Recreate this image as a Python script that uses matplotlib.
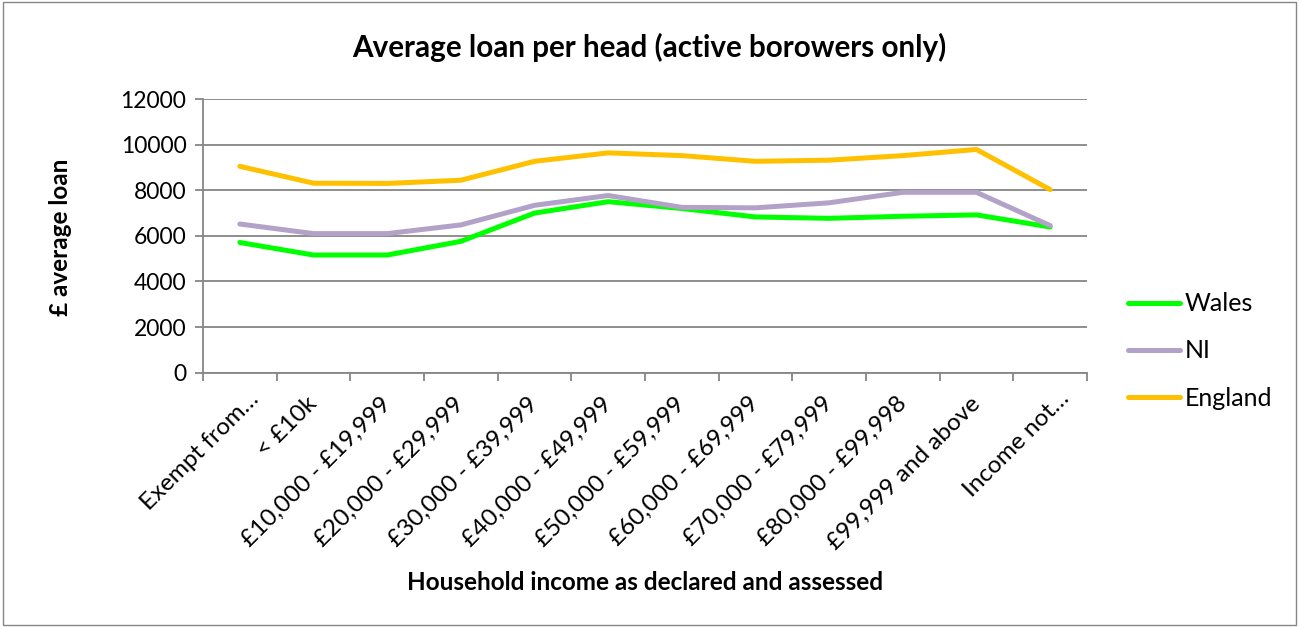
import matplotlib.pyplot as plt
from matplotlib.patches import Rectangle
from matplotlib.transforms import ScaledTranslation

plt.rcParams['font.family'] = ['Lato', 'DejaVu Sans']

categories = ["Exempt from…", "< £10k", "£10,000 - £19,999", "£20,000 - £29,999",
              "£30,000 - £39,999", "£40,000 - £49,999", "£50,000 - £59,999",
              "£60,000 - £69,999", "£70,000 - £79,999", "£80,000 - £99,998",
              "£99,999 and above", "Income not…"]

wales = [5710, 5160, 5160, 5760, 7000, 7500, 7200, 6830, 6770, 6860, 6920, 6390]
ni = [6520, 6100, 6100, 6480, 7340, 7770, 7250, 7230, 7450, 7910, 7910, 6450]
england = [9050, 8310, 8300, 8440, 9270, 9640, 9520, 9270, 9320, 9520, 9790, 8030]

series = [("Wales", wales, "#00FF00"), ("NI", ni, "#B3A2C7"), ("England", england, "#FFC000")]

fig = plt.figure(figsize=(12.99, 6.27), dpi=100)
ax = fig.add_axes([0.1563, 0.4056, 0.6805, 0.4364])

x = range(len(categories))
for name, vals, col in series:
    ax.plot(x, vals, color=col, lw=3.6, label=name, solid_capstyle='round', solid_joinstyle='round')

ax.set_xlim(-0.5, len(categories) - 0.5)
ax.set_ylim(0, 12000)
ax.set_yticks(range(0, 12001, 2000))
ax.yaxis.grid(True, color="#868686", lw=1.3)
ax.set_axisbelow(True)
for s in ["top", "right"]:
    ax.spines[s].set_visible(False)
for s in ["left", "bottom"]:
    ax.spines[s].set_color("#868686")
    ax.spines[s].set_linewidth(1.3)

ax.set_xticks([i - 0.5 for i in range(len(categories) + 1)], minor=False)
ax.set_xticklabels([])
ax.set_xticks(list(x), minor=True)
ax.set_xticklabels(categories, minor=True, rotation=45, ha='right', va='center',
                   rotation_mode='anchor', fontsize=17.5)
ax.tick_params(axis='x', which='minor', length=0, pad=20)
ax.tick_params(axis='x', which='major', length=6, color="#868686", width=1.3)
ax.tick_params(axis='y', length=6, color="#868686", width=1.3, labelsize=16.5, pad=6)

# truncated labels sit a bit further right/up in the original
for lbl in ax.get_xticklabels(minor=True):
    if lbl.get_text().endswith("…"):
        lbl.set_transform(lbl.get_transform() + ScaledTranslation(0.16, 0.05, fig.dpi_scale_trans))

fig.text(0.5, 1 - 47 / 627, "Average loan per head (active borowers only)", ha='center', va='center',
         fontsize=21.3, fontweight='bold')
fig.text(60 / 1299, 1 - 237 / 627, "£ average loan", rotation=90, ha='center', va='center',
         fontsize=17.5, fontweight='bold')
fig.text(645 / 1299, 1 - 583 / 627, "Household income as declared and assessed", ha='center', va='center',
         fontsize=17.5, fontweight='bold')

leg = fig.legend(loc='center left', bbox_to_anchor=(1105 / 1299, 1 - 351 / 627), frameon=False,
                 fontsize=18, handlelength=2.1, labelspacing=0.97, handletextpad=0.2)

fig.add_artist(Rectangle((0.002, 0.003), 0.996, 0.994, transform=fig.transFigure,
                         fill=False, edgecolor="#868686", lw=1))

fig.savefig("out.png", dpi=100)
